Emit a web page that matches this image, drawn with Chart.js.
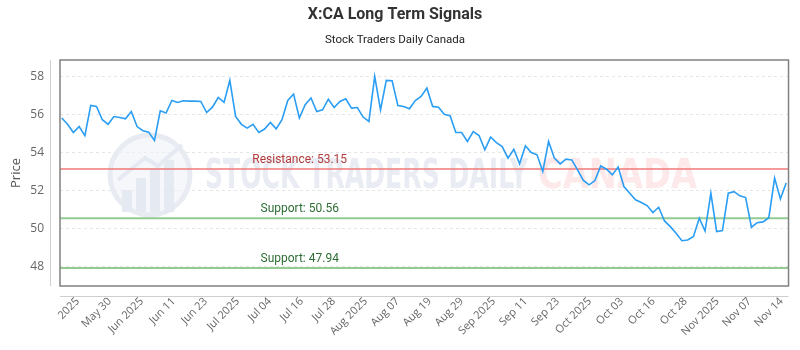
<!DOCTYPE html>
<html><head><meta charset="utf-8">
<script src="https://cdn.jsdelivr.net/npm/chart.js@4.4.1/dist/chart.umd.min.js"></script>
<style>html,body{margin:0;padding:0;background:#fff}</style>
</head><body>
<canvas id="c" width="800" height="350"></canvas>
<script>
const prices = [
55.83, 55.5, 55.07, 55.38, 54.9, 56.49, 56.44, 55.74, 55.5, 55.91,
55.86, 55.79, 56.17, 55.38, 55.16, 55.09, 54.65, 56.21, 56.09, 56.75,
56.65, 56.74, 56.72, 56.72, 56.7, 56.12, 56.4, 56.91, 56.65, 57.81,
55.91, 55.5, 55.3, 55.5, 55.07, 55.25, 55.6, 55.26, 55.74, 56.75,
57.09, 55.83, 56.53, 56.88, 56.17, 56.26, 56.82, 56.38, 56.7, 56.84,
56.35, 56.38, 55.88, 55.65, 58.02, 56.26, 57.81, 57.79, 56.49, 56.44,
56.32, 56.75, 56.96, 57.4, 56.44, 56.4, 56.03, 55.95, 55.07, 55.07,
54.6, 55.12, 54.91, 54.16, 54.83, 54.54, 54.33, 53.72, 54.19, 53.42,
54.37, 54.02, 53.9, 53.02, 54.6, 53.72, 53.42, 53.67, 53.63, 53.1,
52.55, 52.32, 52.54, 53.31, 53.14, 52.84, 53.25, 52.23, 51.88, 51.53,
51.39, 51.23, 50.86, 51.14, 50.42, 50.12, 49.77, 49.38, 49.42, 49.6,
50.56, 49.89, 51.88, 49.86, 49.91, 51.88, 51.96, 51.74, 51.65, 50.09,
50.33, 50.37, 50.59, 52.67, 51.58, 52.41
];
const tickLabels = ['2025','May 30','Jun 2025','Jun 11','Jun 23','Jul 2025','Jul 04','Jul 16','Jul 28','Aug 2025','Aug 07','Aug 19','Aug 29','Sep 2025','Sep 11','Sep 23','Oct 2025','Oct 03','Oct 16','Oct 28','Nov 2025','Nov 07','Nov 14'];
const tickFirst = 2.76;
const tickStep = 5.52;
const levelValues = [53.15, 50.56, 47.94];
const levelNames = ['Resistance', 'Support', 'Support'];
const yTickValues = [48, 50, 52, 54, 56, 58];

const levelStyle = {
  Resistance: {line: 'rgba(240,120,120,0.75)', text: '#b23a3a'},
  Support: {line: 'rgba(120,190,120,0.8)', text: '#2e6e35'}
};

const watermark = {
  id: 'watermark',
  beforeDatasetsDraw(chart) {
    const ctx = chart.ctx;
    ctx.save();
    ctx.beginPath();
    ctx.arc(150, 175, 40, 0, Math.PI * 2);
    ctx.fillStyle = 'rgba(238,241,247,0.6)';
    ctx.fill();
    ctx.lineWidth = 5;
    ctx.strokeStyle = '#e8ebf2';
    ctx.stroke();
    ctx.fillStyle = '#e5e9f1';
    const bars = [[122, 190, 10, 22], [136, 178, 10, 34], [150, 168, 10, 44], [164, 160, 10, 52]];
    bars.forEach(b => ctx.fillRect(b[0], b[1], b[2], b[3]));
    ctx.beginPath();
    ctx.moveTo(118, 180); ctx.lineTo(145, 158); ctx.lineTo(158, 166); ctx.lineTo(182, 145);
    ctx.lineWidth = 4; ctx.strokeStyle = '#e5e9f1'; ctx.stroke();
    ctx.textBaseline = 'middle';
    ctx.textAlign = 'left';
    ctx.font = 'bold 40px "DejaVu Sans Condensed", "Liberation Sans Narrow", sans-serif';
    const t1 = 'STOCK TRADERS DAILY';
    const w1 = ctx.measureText(t1).width;
    ctx.save();
    ctx.translate(205, 178);
    ctx.scale(323 / w1, 1);
    ctx.fillStyle = '#e9ecf3';
    ctx.fillText(t1, 0, 0);
    ctx.restore();
    const t2 = 'CANADA';
    const w2 = ctx.measureText(t2).width;
    ctx.save();
    ctx.translate(538, 178);
    ctx.scale(159 / w2, 1);
    ctx.fillStyle = '#fde9e9';
    ctx.fillText(t2, 0, 0);
    ctx.restore();
    const a = chart.chartArea, y = chart.scales.y;
    levelValues.forEach((v, i) => {
      const py = y.getPixelForValue(v);
      ctx.beginPath();
      ctx.moveTo(a.left, py); ctx.lineTo(a.right, py);
      ctx.lineWidth = 2;
      ctx.strokeStyle = levelStyle[levelNames[i]].line;
      ctx.stroke();
    });
    ctx.restore();
  },
  afterDatasetsDraw(chart) {
    const ctx = chart.ctx, a = chart.chartArea, y = chart.scales.y;
    ctx.save();
    ctx.font = '12px Roboto, sans-serif';
    ctx.textAlign = 'center';
    ctx.textBaseline = 'bottom';
    levelValues.forEach((v, i) => {
      const py = y.getPixelForValue(v);
      ctx.fillStyle = levelStyle[levelNames[i]].text;
      ctx.fillText(levelNames[i] + ': ' + v.toFixed(2), a.left + a.width * 0.329, py - 3);
    });
    ctx.restore();
  },
  afterDraw(chart) {
    const ctx = chart.ctx, a = chart.chartArea;
    ctx.save();
    ctx.strokeStyle = '#cfcfcf';
    ctx.lineWidth = 1;
    ctx.beginPath();
    ctx.moveTo(50.5, a.top); ctx.lineTo(50.5, a.bottom);
    ctx.moveTo(a.left, a.bottom + 10.5); ctx.lineTo(a.right, a.bottom + 10.5);
    ctx.stroke();
    ctx.strokeStyle = '#808080';
    ctx.lineWidth = 1.5;
    ctx.strokeRect(a.left, a.top, a.width, a.height);
    ctx.restore();
  }
};

new Chart(document.getElementById('c'), {
  type: 'line',
  data: {
    datasets: [{
      label: 'Price',
      data: prices.map((v, i) => ({x: i, y: v})),
      borderColor: '#2a9df4',
      borderWidth: 1.6,
      pointRadius: 0,
      tension: 0,
      fill: false
    }]
  },
  options: {
    responsive: false,
    animation: false,
    devicePixelRatio: 1,
    layout: {padding: {left: 0, right: 10, top: 0, bottom: 0}},
    plugins: {
      legend: {display: false},
      tooltip: {enabled: false},
      title: {display: true, text: 'X:CA Long Term Signals', color: '#333',
        font: {family: 'Roboto', size: 16, weight: 'bold'}, padding: {top: 5, bottom: 9}},
      subtitle: {display: true, text: 'Stock Traders Daily Canada', color: '#222',
        font: {family: 'Roboto', size: 11.5}, padding: {top: 0, bottom: 13}}
    },
    scales: {
      x: {
        type: 'linear',
        min: -0.3,
        max: 125.4,
        grid: {display: false, drawTicks: false},
        border: {display: false},
        afterBuildTicks(s) { s.ticks = tickLabels.map((_, k) => ({value: tickFirst + k * tickStep})); },
        afterFit(s) { s.height = 64; },
        ticks: {
          autoSkip: false, maxRotation: 45, minRotation: 45, padding: 9,
          color: '#666', font: {family: 'Open Sans', size: 11},
          callback: (v, i) => tickLabels[i]
        }
      },
      y: {
        min: 47.0,
        max: 58.88,
        afterBuildTicks(s) { s.ticks = yTickValues.map(v => ({value: v})); },
        afterFit(s) { s.width = 60; },
        grid: {color: '#e6e6e6', drawTicks: false},
        border: {display: false, dash: [3, 3]},
        ticks: {padding: 16, color: '#666', font: {family: 'Open Sans', size: 12}},
        title: {display: true, text: 'Price', color: '#555', font: {family: 'Open Sans', size: 13}, padding: {top: 8, bottom: 0}}
      }
    }
  },
  plugins: [watermark]
});
</script>
</body></html>
